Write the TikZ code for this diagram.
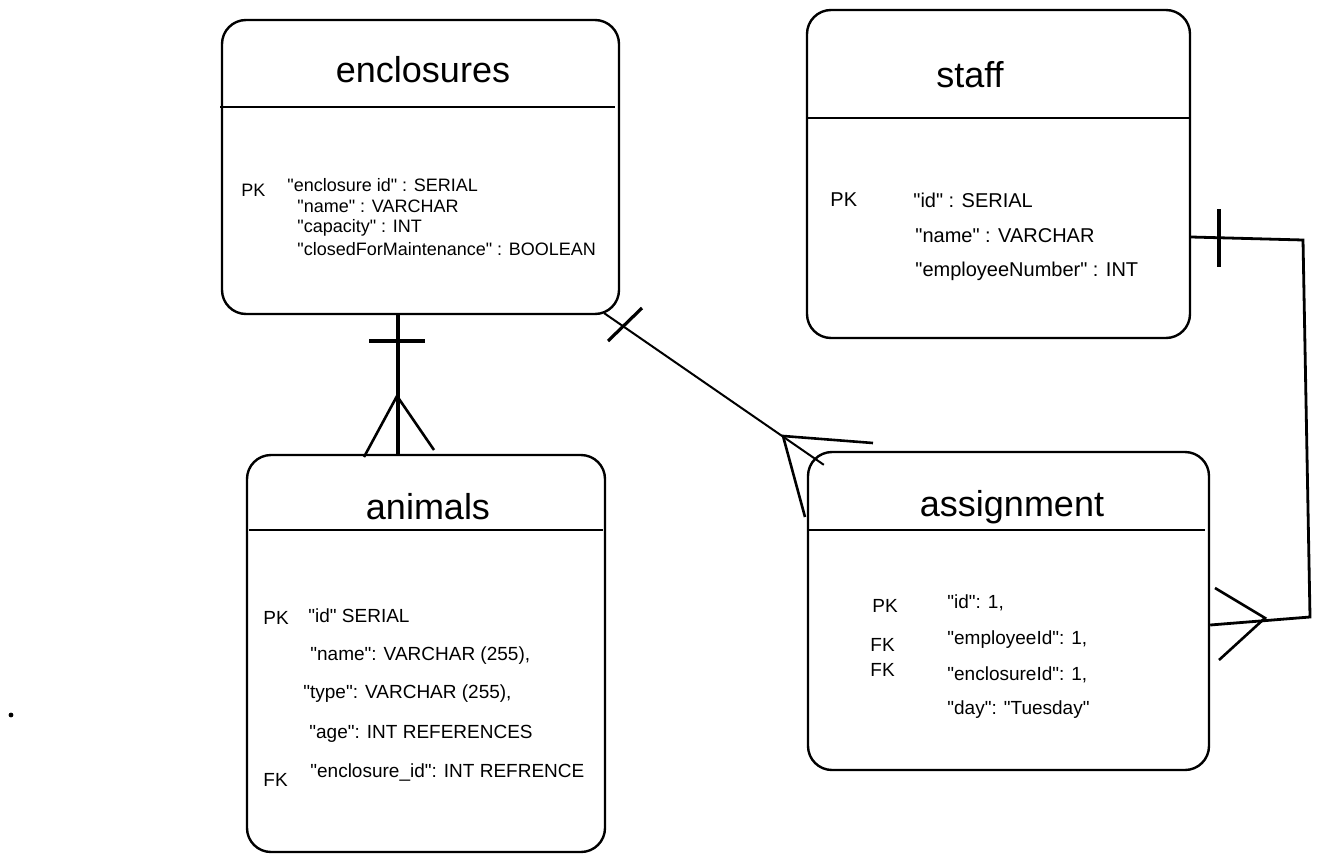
\documentclass[tikz,border=0pt]{standalone}
\usepackage{fontspec}
\setmainfont{Liberation Sans}[Ligatures=TeXOff]
\usetikzlibrary{positioning}

\begin{document}
\begin{tikzpicture}[
    x = 0.5pt, y = -0.5pt,
    tabel/.style = {rectangle, draw, rounded corners=12pt, line width=1.2pt, inner sep=0pt},
    skille/.style = {line width=1.2pt},
    titel/.style = {inner sep=0pt, font=\fontsize{18}{21}\selectfont},
    felt/.style = {anchor=west, inner sep=0pt, font=\fontsize{#1}{#1}\selectfont},
    felt/.default = 9.5,
    streg/.style = {line width=1pt},
    fod/.style = {line width=1.3pt, line join=miter},
    tvaer/.style = {line width=1.6pt}
    ]

  \useasboundingbox (0,0) rectangle (1322,862);

  % tabeller
  \node[tabel, minimum width=198.5pt, minimum height=147pt] (enclosures) at (420.5,167) {};
  \node[tabel, minimum width=191.5pt, minimum height=164pt] (staff) at (998.5,174) {};
  \node[tabel, minimum width=179pt, minimum height=198.5pt] (animals) at (426,653.5) {};
  \node[tabel, minimum width=200.5pt, minimum height=159pt] (assignment) at (1008.5,611) {};

  \node[titel] (enc-t) at (423,70) {enclosures};
  \node[titel] (sta-t) at (970,75) {staff};
  \node[titel] (ani-t) at (428,507) {animals};
  \node[titel] (ass-t) at (1012,507) {assignment};

  \draw[skille] (220,107) -- (615,107);
  \draw[skille] (807,118) -- (1190,118);
  \draw[skille] (249,530) -- (603,530);
  \draw[skille] (808,530) -- (1205,530);

  % enclosures
  \node[felt=9] (enc-pk) at (241,190) {PK};
  \node[felt=9] (enc-f1) at (287,185) {"enclosure id" : SERIAL};
  \node[felt=9] (enc-f2) at (297,206) {"name" : VARCHAR};
  \node[felt=9] (enc-f3) at (297,228) {"capacity" : INT};
  \node[felt=9] (enc-f4) at (297,249) {"closedForMaintenance" : BOOLEAN};

  % staff
  \node[felt=10] (sta-pk) at (830,200) {PK};
  \node[felt=10] (sta-f1) at (913,200) {"id" : SERIAL};
  \node[felt=10] (sta-f2) at (915,236) {"name" : VARCHAR};
  \node[felt=10] (sta-f3) at (915,271) {"employeeNumber" : INT};

  % animals
  \node[felt] (ani-pk) at (263,618) {PK};
  \node[felt] (ani-f1) at (308,616) {"id" SERIAL};
  \node[felt] (ani-f2) at (310,656) {"name": VARCHAR (255),};
  \node[felt] (ani-f3) at (303,694) {"type": VARCHAR (255),};
  \node[felt] (ani-f4) at (309,734) {"age": INT REFERENCES};
  \node[felt] (ani-fk) at (263,780) {FK};
  \node[felt] (ani-f5) at (310,772) {"enclosure\_id": INT REFRENCE};

  % assignment
  \node[felt] (ass-pk) at (872,606) {PK};
  \node[felt] (ass-f1) at (947,603) {"id": 1,};
  \node[felt] (ass-fk1) at (870,645) {FK};
  \node[felt] (ass-f2) at (947,640) {"employeeId": 1,};
  \node[felt] (ass-fk2) at (870,670) {FK};
  \node[felt] (ass-f3) at (947,675) {"enclosureId": 1,};
  \node[felt] (ass-f4) at (947,710) {"day": "Tuesday"};

  % relationer
  \draw[streg, line width=1.6pt] ([xshift=-11.25pt]enclosures.south)
    -- ([xshift=-11.25pt]enclosures.south |- animals.north);
  \draw[tvaer] (369,341) -- (425,341);
  \draw[fod] (364,457) -- (397,396) -- (434,450);

  \draw[streg] ([shift={(-8pt,1pt)}]enclosures.south east)
    -- ([shift={(8.5pt,-7pt)}]assignment.north west);
  \draw[tvaer] (608,341) -- (642,308);
  \draw[fod] (873,443) -- (783,436) -- (805,517);

  \draw[streg, line width=1.4pt] ([yshift=-31.5pt]staff.east) -- (1303,240) -- (1310,617)
    -- ([yshift=-7pt]assignment.east);
  \draw[tvaer] (1219,209) -- (1219,267);
  \draw[fod] (1215,588) -- (1265,618) -- (1219,660);

  \fill (11,715) circle (1.2pt);

\end{tikzpicture}
\end{document}
